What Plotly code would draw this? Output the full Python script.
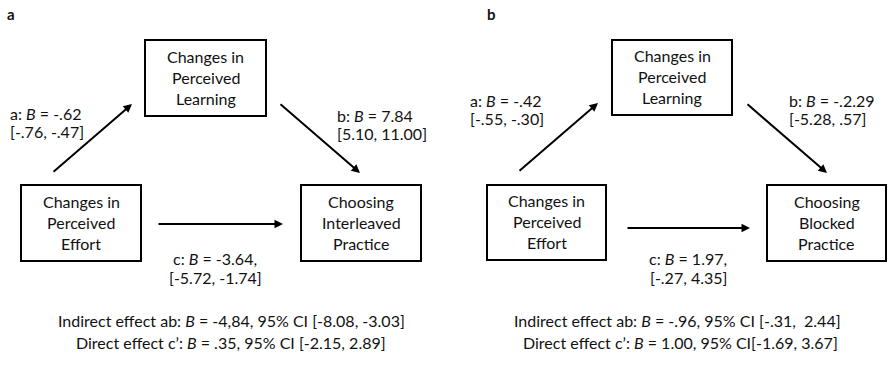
import plotly.graph_objects as go

# ---- model content -------------------------------------------------------
panel_letters = ["a", "b"]
mediator_text = ["Changes in", "Perceived", "Learning"]
predictor_text = ["Changes in", "Perceived", "Effort"]
outcome_texts = [["Choosing", "Interleaved", "Practice"],
                 ["Choosing", "Blocked", "Practice"]]

a_B = ["-.62", "-.42"]
a_CI = ["[-.76, -.47]", "[-.55, -.30]"]
b_B = ["7.84", "-.2.29"]
b_CI = ["[5.10, 11.00]", "[-5.28, .57]"]
c_B = ["-3.64,", "1.97,"]
c_CI = ["[-5.72, -1.74]", "[-.27, 4.35]"]
indirect_B = ["-4,84", "-.96"]
indirect_CI = [" [-8.08, -3.03]", " [-.31,\u00a0 2.44]"]
direct_B = [".35", "1.00"]
direct_CI = [" [-2.15, 2.89]", "[-1.69, 3.67]"]

# ---- geometry (pixel space, y grows downward) ------------------------------
W, H = 895, 365
geom = [
    dict(letter=(11, 14),
         med=(145, 40, 266, 116), pred=(21, 185, 141, 261), out=(301, 185, 421, 261),
         arr_a=((52, 173), (132, 104)), arr_b=((279, 103), (360, 173)),
         arr_c=((157, 224), (283, 224)),
         lab_a=(8, 113), lab_b=(335, 115), lab_c=(215, 258),
         ind=(231, 320), dir=(231, 342)),
    dict(letter=(491, 14),
         med=(612, 40, 732, 115), pred=(487, 185, 606, 260), out=(767, 185, 886, 261),
         arr_a=((518, 172), (598, 103)), arr_b=((746, 103), (827, 173)),
         arr_c=((626, 228), (750, 228)),
         lab_a=(468, 100), lab_b=(787, 100), lab_c=(688, 258),
         ind=(677, 320), dir=(680, 342)),
]

FONT = "Lato"
FS = 16
TXT = "#111111"
LINE_GAP_BOX = 21
LINE_GAP_LAB = 18

fig = go.Figure()
shapes, annotations = [], []


def text(x, y, s, anchor="center", size=FS, bold=False):
    annotations.append(dict(
        x=x, y=y, xref="x", yref="y", text=("<b>%s</b>" % s) if bold else s,
        showarrow=False, xanchor=anchor, yanchor="middle",
        font=dict(family=FONT, size=size, color=TXT)))


def box(rect, lines):
    x0, y0, x1, y1 = rect
    shapes.append(dict(type="rect", xref="x", yref="y", x0=x0, y0=y0, x1=x1, y1=y1,
                       line=dict(color="black", width=2), fillcolor="rgba(0,0,0,0)"))
    cx, cy = (x0 + x1) / 2, (y0 + y1) / 2
    for i, ln in enumerate(lines):
        text(cx, cy + (i - 1) * LINE_GAP_BOX - 1, ln)


def arrow(p0, p1):
    annotations.append(dict(
        x=p1[0], y=p1[1], ax=p0[0], ay=p0[1], xref="x", yref="y",
        axref="x", ayref="y", text="", showarrow=True,
        arrowhead=2, arrowsize=0.85, arrowwidth=2, arrowcolor="black"))


for i, g in enumerate(geom):
    text(g["letter"][0], g["letter"][1], panel_letters[i], size=15, bold=True)
    box(g["med"], mediator_text)
    box(g["pred"], predictor_text)
    box(g["out"], outcome_texts[i])
    arrow(*g["arr_a"])
    arrow(*g["arr_b"])
    arrow(*g["arr_c"])

    x, y = g["lab_a"]
    text(x, y, "a: <i>B</i> = " + a_B[i], anchor="left")
    text(x, y + LINE_GAP_LAB, a_CI[i], anchor="left")
    x, y = g["lab_b"]
    text(x, y, "b: <i>B</i> = " + b_B[i], anchor="left")
    text(x, y + LINE_GAP_LAB, b_CI[i], anchor="left")
    x, y = g["lab_c"]
    text(x, y, "c: <i>B</i> = " + c_B[i])
    text(x, y + LINE_GAP_LAB + 1, c_CI[i])

    text(g["ind"][0], g["ind"][1],
         "Indirect effect ab: <i>B</i> = %s, 95%% CI%s" % (indirect_B[i], indirect_CI[i]))
    text(g["dir"][0], g["dir"][1],
         "Direct effect c\u2019: <i>B</i> = %s, 95%% CI%s" % (direct_B[i], direct_CI[i]))

fig.update_layout(
    width=W, height=H, margin=dict(l=0, r=0, t=0, b=0),
    paper_bgcolor="white", plot_bgcolor="white",
    xaxis=dict(range=[0, W], visible=False, fixedrange=True),
    yaxis=dict(range=[H, 0], visible=False, fixedrange=True),
    shapes=shapes, annotations=annotations, showlegend=False,
)
fig.write_html("out.html", config={"displayModeBar": False})
